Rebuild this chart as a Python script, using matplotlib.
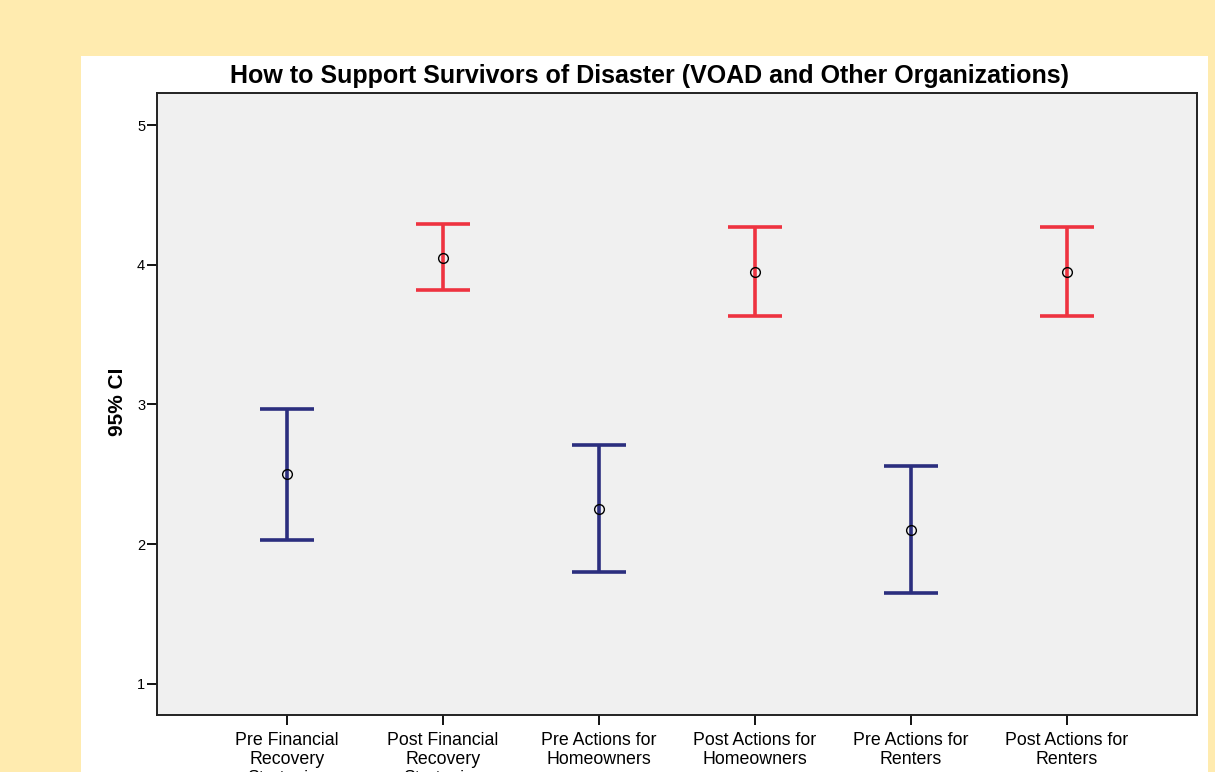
import matplotlib.pyplot as plt
import matplotlib.patches as mpatches

plt.rcParams['font.family'] = ['Liberation Sans', 'DejaVu Sans']

# === Data ===
labels = [
    "Pre Financial\nRecovery\nStrategies",
    "Post Financial\nRecovery\nStrategies",
    "Pre Actions for\nHomeowners",
    "Post Actions for\nHomeowners",
    "Pre Actions for\nRenters",
    "Post Actions for\nRenters",
]
means = [2.50, 4.05, 2.25, 3.95, 2.10, 3.95]
upper = [2.97, 4.29, 2.71, 4.27, 2.56, 4.27]
lower = [2.03, 3.82, 1.80, 3.63, 1.65, 3.63]
groups = ["pre", "post", "pre", "post", "pre", "post"]

colors = {"pre": "#2B2E7E", "post": "#EE3340"}

fig = plt.figure(figsize=(12.15, 7.72), dpi=100)
fig.patch.set_facecolor("#FFEBAF")

# white panel behind the chart
fig.add_artist(mpatches.Rectangle((81 / 1215, 0), 1127 / 1215, 716 / 772,
                                  transform=fig.transFigure,
                                  facecolor="white", edgecolor="none", zorder=0))

ax = fig.add_axes([157 / 1215, 1 - 715 / 772, 1040 / 1215, 622 / 772])
ax.set_facecolor("#F0F0F0")

for i, (m, hi, lo, g) in enumerate(zip(means, upper, lower, groups)):
    ax.errorbar(i, m, yerr=[[m - lo], [hi - m]], fmt="none",
                ecolor=colors[g], elinewidth=2.6, capsize=19.5, capthick=2.6, zorder=2)
    ax.plot(i, m, marker="o", markersize=7, markerfacecolor="none",
            markeredgecolor="black", markeredgewidth=1.0, zorder=3)

ax.set_xlim(-0.833, 5.833)
ax.set_ylim(0.778, 5.229)
ax.set_yticks([1, 2, 3, 4, 5])
ax.set_xticks(range(len(labels)))
ax.set_xticklabels(labels, fontsize=12.8, linespacing=1.15)
ax.tick_params(axis="y", labelsize=10.5, length=7, width=1.3, pad=1.5)
ax.tick_params(axis="x", length=7.5, width=1.3, pad=5)
for s in ax.spines.values():
    s.set_linewidth(1.4)
    s.set_color("#222222")

fig.text(118 / 1215, 1 - 402 / 772, "95% CI", rotation=90, ha="center", va="center",
         fontsize=15, fontweight="bold")

fig.text(649 / 1215, 1 - 76 / 772,
         "How to Support Survivors of Disaster (VOAD and Other Organizations)",
         ha="center", va="center", fontsize=18, fontweight="bold")

fig.savefig("out.png", dpi=100, facecolor=fig.get_facecolor())
